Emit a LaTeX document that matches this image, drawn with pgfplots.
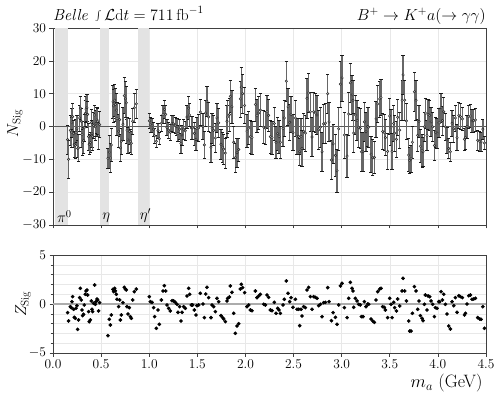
\RequirePackage{fix-cm}
\documentclass[border=0pt]{standalone}
\usepackage{fontspec}
\usepackage{pgfplots}
\usepackage{pgfplotstable}
\pgfplotsset{compat=1.18}
\pgfplotstableread{
x N err Z
0.152 -4.0 4.5 -0.88
0.162 -10.0 5.8 -1.73
0.180 -1.2 4.5 -0.27
0.190 -1.7 4.5 -0.37
0.197 1.1 4.5 0.24
0.204 3.0 4.0 0.75
0.214 -2.2 4.0 -0.54
0.221 -5.4 4.0 -1.36
0.232 -5.8 4.0 -1.46
0.239 -1.8 4.0 -0.44
0.249 -0.7 4.0 -0.17
0.256 -6.7 2.6 -2.59
0.266 -6.5 4.0 -1.63
0.277 2.6 4.0 0.65
0.284 5.6 3.5 1.60
0.294 1.6 4.0 0.41
0.301 -2.4 4.0 -0.61
0.308 -4.8 4.0 -1.19
0.318 -4.2 4.0 -1.05
0.325 -0.4 4.0 -0.10
0.336 4.0 4.0 0.99
0.343 5.3 4.0 1.33
0.353 5.7 4.0 1.43
0.360 3.7 4.0 0.92
0.370 -3.1 4.0 -0.78
0.377 -5.4 3.0 -1.80
0.388 -4.9 3.0 -1.63
0.398 1.2 4.0 0.31
0.405 -2.2 4.0 -0.54
0.412 -3.1 4.0 -0.78
0.422 0.3 4.0 0.07
0.433 3.5 3.0 1.94
0.440 -0.1 4.0 -0.03
0.447 1.0 4.0 0.24
0.457 2.0 4.0 0.51
0.464 1.6 4.0 0.41
0.474 -2.8 4.0 -0.71
0.485 0.6 4.0 0.14
0.571 -9.7 3.0 -3.23
0.585 -7.8 5.0 -1.56
0.596 -9.6 4.5 -2.14
0.606 -5.6 5.0 -1.12
0.623 7.5 5.0 1.50
0.630 6.3 5.0 1.26
0.641 8.0 5.0 1.60
0.648 6.7 5.0 1.33
0.658 5.0 5.0 0.99
0.665 2.4 5.0 0.48
0.682 -1.4 5.0 -0.27
0.693 2.1 5.0 0.41
0.700 -6.5 4.0 -1.63
0.710 -4.5 4.0 -1.12
0.727 0.7 5.0 0.14
0.741 9.4 5.5 1.70
0.752 8.4 5.5 1.53
0.762 7.2 5.0 1.43
0.769 -1.1 4.0 -0.27
0.779 -4.1 4.0 -1.02
0.793 -1.5 4.0 -0.37
0.804 -4.5 3.5 -1.29
0.814 -5.1 3.5 -1.46
0.828 1.6 4.0 0.41
0.845 5.7 4.5 1.26
0.866 6.9 4.5 1.53
1.001 1.7 2.2 0.75
1.011 0.5 2.2 0.24
1.029 0.4 2.2 0.17
1.046 -0.8 2.2 -0.37
1.056 -2.8 2.2 -1.29
1.074 -4.5 1.8 -2.48
1.091 -1.3 2.2 -0.61
1.105 -3.7 1.8 -2.07
1.126 1.0 2.5 0.41
1.143 3.7 2.8 1.33
1.157 5.2 2.8 1.87
1.171 3.7 2.8 1.33
1.185 -0.3 2.5 -0.10
1.202 -1.1 2.5 -0.44
1.219 -1.8 2.5 -0.71
1.237 0.9 2.5 0.34
1.254 0.8 2.5 0.31
1.271 0.4 2.5 0.17
1.289 -0.1 2.5 -0.03
1.299 -2.1 2.5 -0.85
1.316 -0.8 3.0 -0.27
1.330 -5.2 3.0 -1.73
1.341 -2.6 3.0 -0.85
1.358 -0.8 3.0 -0.27
1.375 -1.3 3.0 -0.44
1.393 2.9 3.5 0.82
1.410 5.6 3.5 1.60
1.420 3.5 3.5 0.99
1.438 -0.4 3.5 -0.10
1.451 -0.4 3.5 -0.10
1.469 -2.1 3.5 -0.61
1.486 -3.9 3.5 -1.12
1.496 -0.6 3.5 -0.17
1.514 -0.4 4.0 -0.10
1.531 4.4 4.0 1.09
1.559 0.0 4.0 0.00
1.573 -5.6 4.0 -1.39
1.587 4.1 4.0 1.02
1.600 7.7 4.5 1.70
1.618 2.9 4.5 0.65
1.642 -6.3 4.5 -1.39
1.652 -0.5 4.5 -0.10
1.670 -1.2 4.5 -0.27
1.687 -3.5 4.5 -0.78
1.704 2.6 4.5 0.58
1.722 1.1 4.5 0.24
1.746 -5.4 4.5 -1.19
1.763 -6.3 4.5 -1.39
1.774 -6.9 4.5 -1.53
1.791 -8.1 4.5 -1.80
1.808 1.6 5.0 0.31
1.815 2.9 5.0 0.58
1.833 3.6 5.0 0.71
1.843 9.2 5.0 1.84
1.860 6.0 5.0 1.19
1.878 -4.8 5.0 -0.95
1.895 -9.5 4.5 -2.99
1.912 -8.0 4.5 -2.24
1.930 -7.0 3.5 -2.01
1.947 8.4 5.5 1.53
1.957 12.0 6.0 2.01
1.971 10.0 6.0 1.67
1.992 6.4 5.5 1.16
2.016 -1.4 5.0 -0.27
2.034 -0.5 5.0 -0.10
2.051 -3.1 5.0 -0.61
2.068 -3.4 5.0 -0.68
2.103 6.7 5.0 1.33
2.120 3.3 5.0 0.65
2.138 4.1 5.0 0.82
2.155 5.0 5.0 0.99
2.190 -0.2 5.0 -0.03
2.207 -0.5 5.0 -0.10
2.224 4.6 5.0 0.92
2.241 3.4 5.0 0.68
2.259 -3.1 5.0 -0.61
2.276 -3.4 5.0 -0.68
2.300 0.9 5.0 0.17
2.318 -4.8 5.0 -0.95
2.335 -2.2 5.0 -0.44
2.349 -3.1 5.0 -0.61
2.363 -4.8 5.0 -0.95
2.391 -0.6 5.5 -0.10
2.404 2.6 5.5 0.48
2.425 13.8 6.0 2.35
2.443 6.0 5.5 1.09
2.460 1.3 5.5 0.24
2.474 3.6 5.5 0.65
2.494 -1.9 5.5 -0.34
2.519 2.6 5.5 0.48
2.536 -3.0 5.5 -0.54
2.553 -3.0 5.5 -0.54
2.564 -7.7 4.0 -2.21
2.578 -3.0 5.5 -0.54
2.588 -6.7 5.5 -1.22
2.605 -1.5 5.5 -0.27
2.623 -2.0 5.5 -0.37
2.640 8.6 6.0 1.43
2.657 10.2 6.0 1.70
2.675 4.5 6.0 0.75
2.692 -3.2 6.0 -0.54
2.709 4.5 6.0 0.75
2.727 4.1 6.0 0.68
2.744 3.5 6.0 0.58
2.761 -1.0 6.0 -0.17
2.779 -0.2 6.0 -0.03
2.796 -7.7 6.0 -1.29
2.813 0.8 6.0 0.14
2.831 1.0 6.0 0.17
2.855 10.0 6.0 1.67
2.869 1.4 6.0 0.24
2.894 -10.2 6.0 -1.70
2.911 -5.3 6.0 -0.88
2.935 -8.8 6.5 -1.36
2.952 -13.5 6.5 -2.07
2.969 -0.7 6.5 -0.10
2.987 12.9 7.0 1.84
3.004 14.8 7.0 2.11
3.028 -2.6 7.0 -0.37
3.056 -9.0 6.5 -1.39
3.073 3.8 6.5 0.58
3.090 13.3 6.0 2.21
3.108 9.6 6.0 1.60
3.118 8.0 6.0 1.33
3.125 -2.0 6.0 -0.34
3.142 3.5 6.0 0.58
3.160 1.9 6.0 0.31
3.177 -0.2 6.0 -0.03
3.194 -0.6 6.0 -0.10
3.205 -7.7 6.0 -1.29
3.222 -7.7 6.0 -1.29
3.236 1.4 6.0 0.24
3.253 -1.6 6.0 -0.27
3.271 0.0 6.0 0.00
3.281 -0.2 6.0 -0.03
3.305 -8.4 5.5 -1.53
3.323 -9.5 5.5 -1.73
3.340 -9.4 5.0 -1.87
3.357 2.3 5.5 0.41
3.375 6.9 5.5 1.26
3.395 8.4 5.5 1.53
3.409 8.8 5.5 1.60
3.426 -1.5 5.5 -0.27
3.444 -1.9 5.5 -0.34
3.454 -3.4 5.5 -0.61
3.478 -7.6 5.5 -1.39
3.499 3.2 5.5 0.58
3.513 -0.2 5.5 -0.03
3.524 -7.6 5.5 -1.39
3.541 0.9 5.5 0.17
3.551 -2.0 5.5 -0.37
3.569 -3.9 5.5 -0.71
3.582 2.8 5.5 0.51
3.603 -1.1 5.5 -0.20
3.628 8.0 6.0 1.33
3.638 15.7 6.0 2.62
3.655 8.0 6.0 1.33
3.673 1.7 5.5 0.31
3.697 -8.7 5.0 -1.73
3.707 -10.3 4.0 -2.76
3.721 -9.8 4.0 -2.76
3.735 -4.8 5.0 -0.95
3.756 10.6 6.0 1.77
3.773 8.0 6.0 1.33
3.790 -2.7 5.0 -0.54
3.804 1.6 5.0 0.31
3.818 -6.0 5.0 -1.19
3.836 -7.3 5.0 -1.46
3.846 -7.7 4.5 -1.70
3.860 -0.1 4.5 -0.03
3.870 4.1 4.5 0.92
3.887 -2.7 4.5 -0.61
3.898 3.7 4.5 0.82
3.915 3.4 4.5 0.75
3.929 1.4 4.5 0.31
3.946 -0.1 4.5 -0.03
3.964 -5.8 4.5 -1.29
3.974 -1.7 4.5 -0.37
3.991 -2.0 4.5 -0.44
4.009 1.1 4.5 0.24
4.019 1.1 4.5 0.24
4.033 5.7 4.5 1.26
4.047 1.8 4.5 0.41
4.061 4.5 4.5 0.99
4.078 -0.1 4.0 -0.03
4.095 -4.1 4.0 -1.02
4.113 -6.7 3.0 -2.24
4.130 -7.7 3.0 -2.55
4.147 1.0 4.0 0.24
4.165 -0.7 4.0 -0.17
4.182 2.6 4.0 0.65
4.199 -3.4 4.0 -0.85
4.217 3.4 4.0 0.85
4.234 3.0 4.0 0.75
4.255 2.3 3.5 0.65
4.276 -3.9 3.5 -1.12
4.286 -3.3 3.5 -0.95
4.303 0.0 3.5 0.00
4.321 3.0 3.5 0.85
4.338 3.2 3.5 0.92
4.355 1.7 3.5 0.48
4.372 1.8 3.5 0.51
4.390 2.0 3.5 0.58
4.414 -4.2 3.0 -1.39
4.435 -4.6 3.0 -1.53
4.449 -4.7 3.0 -1.56
4.467 -0.8 3.0 -0.27
4.484 -5.0 2.0 -2.48
}\datatable
\begin{document}
\begin{tikzpicture}
\useasboundingbox (-53bp,-370bp) rectangle (446bp,28bp);
\pgfplotsset{
  common/.style={
    width=433bp, scale only axis,
    xmin=0, xmax=4.5,
    xtick={0,0.5,1,1.5,2,2.5,3,3.5,4,4.5},
    tick align=outside, tick pos=left,
    major tick length=3.5bp, minor tick length=2.5bp,
    axis line style={black!75, line width=0.6pt},
    every tick/.style={black!75, line width=0.6pt},
    major grid style={gray!18, line width=0.5pt},
    minor grid style={gray!18, line width=0.5pt},
    tick label style={font=\fontsize{13.5}{15}\selectfont},
    ylabel style={font=\fontsize{16}{18}\selectfont, anchor=center, rotate=0},
  }
}
\begin{axis}[common,
  name=top, at={(0bp,0bp)}, anchor=north west, height=197bp,
  ymin=-30, ymax=30, ytick={-30,-20,-10,0,10,20,30},
  xticklabels={}, grid=major, clip=false,
  ylabel={$N_{\mathrm{Sig}}$},
  ylabel style={at={(axis description cs:-0.088,0.515)}},
]
\addplot[fill=gray!22, draw=none, forget plot] coordinates {(0.02,-30) (0.02,30) (0.16,30) (0.16,-30)} -- cycle;
\addplot[fill=gray!22, draw=none, forget plot] coordinates {(0.49,-30) (0.49,30) (0.58,30) (0.58,-30)} -- cycle;
\addplot[fill=gray!22, draw=none, forget plot] coordinates {(0.88,-30) (0.88,30) (1.0,30) (1.0,-30)} -- cycle;
\addplot[black!65, line width=0.6pt, forget plot] coordinates {(0,0) (4.5,0)};
\addplot[only marks, mark=*, mark size=1.25pt,
  mark options={fill=gray!55, draw=black!85, line width=0.45pt},
  error bars/.cd, y dir=both, y explicit,
  error bar style={line width=1.4pt, black!60},
  error mark options={rotate=90, mark size=1.6pt, line width=0.6pt, black!90}]
  table[x=x, y=N, y error=err] {\datatable};
\node[anchor=south west, inner sep=2bp, font=\fontsize{15}{17}\selectfont] at (axis cs:0.02,-30) {$\pi^0$};
\node[anchor=south west, inner sep=2bp, font=\fontsize{15}{17}\selectfont] at (axis cs:0.49,-30) {$\eta$};
\node[anchor=south west, inner sep=2bp, font=\fontsize{15}{17}\selectfont] at (axis cs:0.88,-30) {$\eta'$};
\node[anchor=base west, inner sep=0pt, font=\fontsize{16}{18}\selectfont, yshift=7.5bp] at (rel axis cs:0,1) {$\textit{Belle}\ \int\mathcal{L}\mathrm{d}t = 711\,\mathrm{fb}^{-1}$};
\node[anchor=base east, inner sep=0pt, font=\fontsize{16}{18}\selectfont, yshift=7.5bp] at (rel axis cs:1,1) {$B^{+}\to K^{+}a(\to\gamma\gamma)$};
\end{axis}
\begin{axis}[common,
  at={(0bp,-227bp)}, anchor=north west, height=98bp,
  ymin=-5, ymax=5, ytick={-5,0,5}, minor ytick={-4,-3,-2,-1,1,2,3,4},
  grid=both,
  xticklabel style={/pgf/number format/.cd, fixed, fixed zerofill, precision=1},
  xlabel={$m_a$ (GeV)},
  xlabel style={at={(axis description cs:1,0)}, anchor=north east, yshift=-18bp, font=\fontsize{18}{20}\selectfont},
  ylabel={$Z_{\mathrm{Sig}}$},
  ylabel style={at={(axis description cs:-0.069,0.5)}},
]
\addplot[gray!65, line width=1.4pt, forget plot] coordinates {(0,0) (4.5,0)};
\addplot[only marks, mark=*, mark size=1.65pt, black] table[x=x, y=Z] {\datatable};
\end{axis}
\end{tikzpicture}
\end{document}
